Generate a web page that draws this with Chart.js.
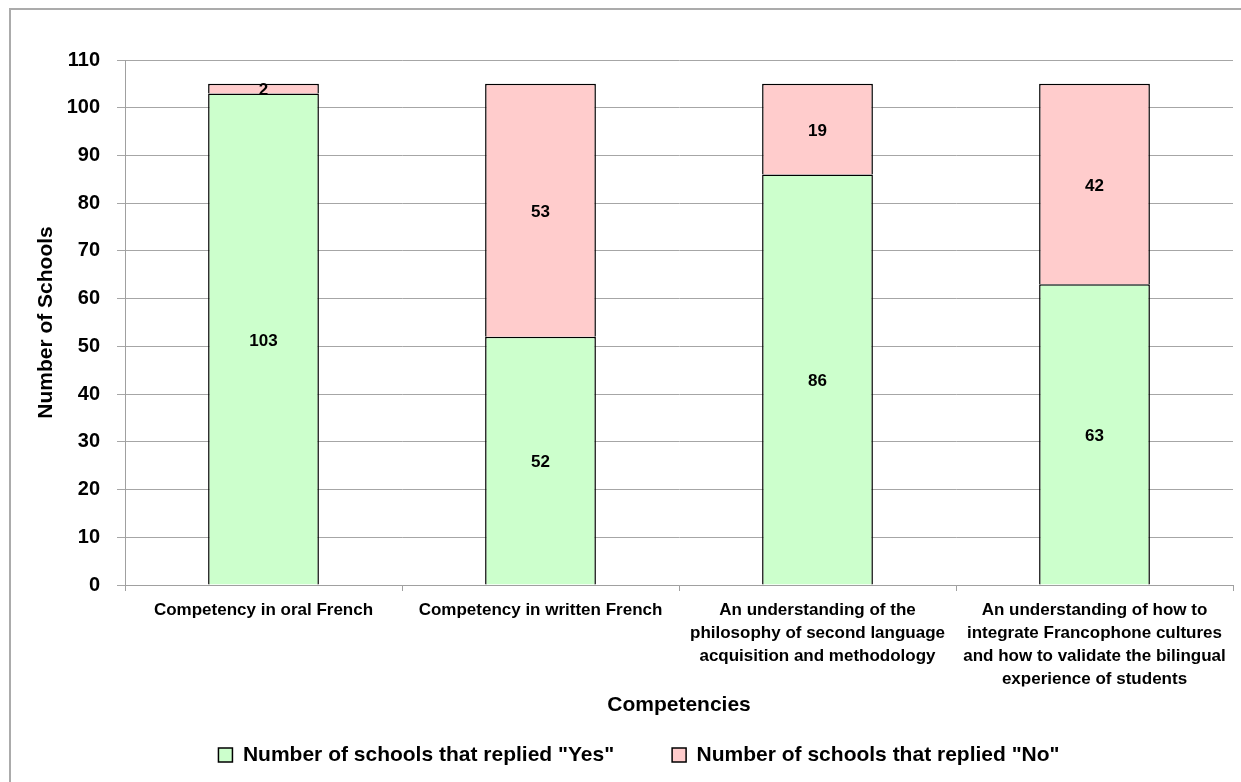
<!DOCTYPE html>
<html>
<head>
<meta charset="utf-8">
<script src="https://cdn.jsdelivr.net/npm/chart.js@4.4.1/dist/chart.umd.min.js"></script>
<style>
  html, body { margin: 0; padding: 0; background: #ffffff; }
  #wrap { width: 1241px; height: 782px; position: relative; }
  canvas { display: block; }
</style>
</head>
<body>
<div id="wrap"><canvas id="c" width="1241" height="782"></canvas></div>
<script>
const categories = [
  "Competency in oral French",
  "Competency in written French",
  ["An understanding of the", "philosophy of second language", "acquisition and methodology"],
  ["An understanding of how to", "integrate Francophone cultures", "and how to validate the bilingual", "experience of students"]
];
const yesValues = [103, 52, 86, 63];
const noValues = [2, 53, 19, 42];
const seriesNames = ['Number of schools that replied "Yes"', 'Number of schools that replied "No"'];
const yTicks = { min: 0, max: 110, step: 10 };
const axisTitles = { x: "Competencies", y: "Number of Schools" };

const FONT = "'Liberation Sans', Arial, sans-serif";

const frame = {
  id: 'frame',
  beforeDraw(chart) {
    const ctx = chart.ctx;
    ctx.save();
    ctx.fillStyle = '#ffffff';
    ctx.fillRect(0, 0, chart.width, chart.height);
    ctx.strokeStyle = '#ababab';
    ctx.lineWidth = 2;
    ctx.beginPath();
    ctx.moveTo(10, chart.height + 5);
    ctx.lineTo(10, 9);
    ctx.lineTo(chart.width + 5, 9);
    ctx.stroke();
    ctx.restore();
  }
};

const valueLabels = {
  id: 'valueLabels',
  afterDatasetsDraw(chart) {
    const ctx = chart.ctx;
    ctx.save();
    ctx.font = 'bold 17px ' + FONT;
    ctx.fillStyle = '#000000';
    ctx.textAlign = 'center';
    ctx.textBaseline = 'middle';
    chart.data.datasets.forEach((ds, di) => {
      const meta = chart.getDatasetMeta(di);
      meta.data.forEach((el, i) => {
        const v = ds.data[i];
        const p = el.getProps(['x', 'y', 'base'], true);
        ctx.fillText(String(v), p.x, (p.y + p.base) / 2 + 2);
      });
    });
    ctx.restore();
  }
};

new Chart(document.getElementById('c'), {
  type: 'bar',
  data: {
    labels: categories,
    datasets: [
      {
        label: seriesNames[0],
        data: yesValues,
        backgroundColor: '#ccffcc',
        borderColor: '#000000',
        borderWidth: 1.5,
        borderSkipped: 'start',
        categoryPercentage: 1.0,
        barPercentage: 0.4
      },
      {
        label: seriesNames[1],
        data: noValues,
        backgroundColor: '#ffcccc',
        borderColor: '#000000',
        borderWidth: 1.5,
        borderSkipped: 'start',
        categoryPercentage: 1.0,
        barPercentage: 0.4
      }
    ]
  },
  options: {
    responsive: false,
    animation: false,
    devicePixelRatio: 1,
    layout: { padding: { left: 45, right: 8, top: 60, bottom: 6.5 } },
    plugins: {
      tooltip: { enabled: false },
      legend: {
        position: 'bottom',
        labels: {
          font: { family: FONT, size: 21, weight: 'bold' },
          color: '#000000',
          boxWidth: 14,
          boxHeight: 14,
          padding: 58
        }
      }
    },
    scales: {
      x: {
        stacked: true,
        offset: true,
        grid: {
          offset: true,
          drawOnChartArea: false,
          drawTicks: true,
          tickLength: 6,
          color: '#a0a0a0'
        },
        border: { display: true, color: '#a0a0a0', width: 1 },
        ticks: {
          autoSkip: false,
          maxRotation: 0,
          minRotation: 0,
          padding: 8,
          color: '#000000',
          font: { family: FONT, size: 17, weight: 'bold', lineHeight: 1.35 }
        },
        title: {
          display: true,
          text: axisTitles.x,
          color: '#000000',
          font: { family: FONT, size: 21, weight: 'bold', lineHeight: 1.2 },
          padding: { top: 0, bottom: -31 }
        },
        afterFit(scale) { scale.height = 101.5; }
      },
      y: {
        stacked: true,
        min: yTicks.min,
        max: yTicks.max,
        grid: {
          color: '#a6a6a6',
          lineWidth: 1,
          tickLength: 8,
          drawTicks: true
        },
        border: { display: true, color: '#a0a0a0', width: 1 },
        ticks: {
          stepSize: yTicks.step,
          padding: 17,
          color: '#000000',
          font: { family: FONT, size: 20, weight: 'bold' }
        },
        title: {
          display: true,
          text: axisTitles.y,
          color: '#000000',
          font: { family: FONT, size: 21, weight: 'bold', lineHeight: 1.2 },
          padding: { top: -11.6, bottom: 0 }
        },
        afterFit(scale) { scale.width = 80; }
      }
    }
  },
  plugins: [frame, valueLabels]
});
</script>
</body>
</html>
